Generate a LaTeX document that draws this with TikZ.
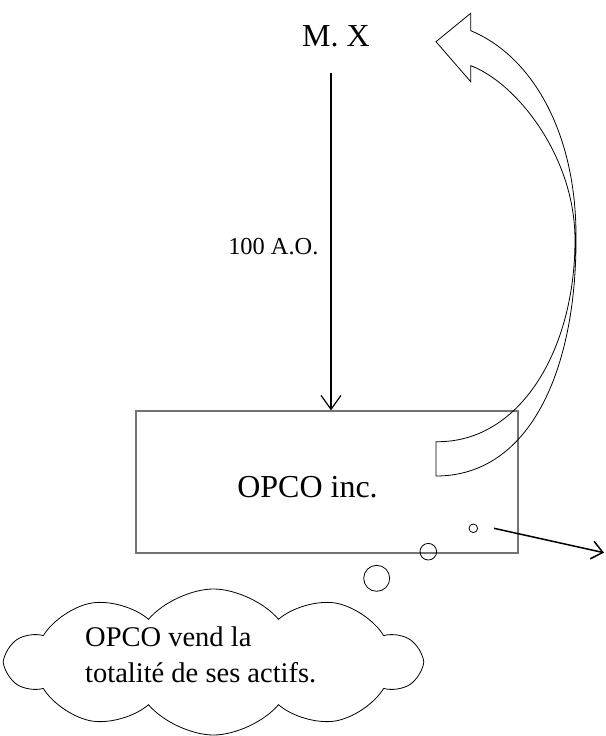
\documentclass[tikz,border=0pt]{standalone}
\usepackage{fontspec}
\setmainfont{Liberation Serif}
\usetikzlibrary{arrows.meta,positioning,shapes.symbols}

\begin{document}
\begin{tikzpicture}[x=1pt, y=-1pt,
    fleche/.style={draw=black, line width=1.2pt, -{Straight Barb[length=14pt, width=20pt]}},
    rond/.style={draw=black, circle, inner sep=0pt, line width=0.8pt},
    txt/.style={inner sep=0pt}]
    \useasboundingbox (0,0) rectangle (605,736);

    % Actionnaire
    \node[txt, font=\fontsize{32}{38}\selectfont] (mx) at (336,36) {M. X};

    % Societe
    \node[draw=black!55, line width=1.2pt, minimum width=382pt, minimum height=142pt, inner sep=0pt] (opco) at (327,482) {};
    \node[txt, font=\fontsize{32}{38}\selectfont] (opcotxt) at ([shift={(-19.5,5)}]opco.center) {OPCO inc.};

    % Actions detenues
    \coordinate (haut) at ([shift={(-5,26)}]mx.south);
    \draw[fleche] (haut) -- (haut |- opco.north)
        node[txt, pos=0.514, left=12pt, font=\fontsize{24.4}{29}\selectfont] (ao) {100 A.O.};

    % Fleche courbe (retour vers M. X)
    \draw[line width=0.8pt] (436,441.7) -- (436,476) .. controls (530,476) and (576,370) .. (576,240)
        .. controls (577,130) and (530,55) .. (470.7,30.7) -- (470.7,13.3) -- (436,41.7)
        -- (470.7,81.7) -- (470.7,65.7) .. controls (515,82) and (575,155) .. (575,240)
        .. controls (575,350) and (520,443) .. (436,441.7) -- cycle;

    % Pensee
    \node[rond, minimum size=8.6pt] (b1) at (473.3,528.3) {};
    \node[rond, minimum size=16.6pt] (b2) at (428.3,551.7) {};
    \node[rond, minimum size=26pt] (b3) at (376.7,578.3) {};
    \node[cloud, draw, cloud puffs=10, cloud puff arc=100, cloud ignores aspect, minimum width=413pt, minimum height=146pt, line width=0.8pt] (nuage) at (213.5,662) {};
    \node[txt, anchor=west, align=left, font=\fontsize{28.5}{36}\selectfont] (nuagetxt) at (85,655.3) {OPCO vend la\\totalité de ses actifs.};

    % Vente des actifs
    \coordinate (vente) at (604,552.7);
    \draw[fleche, line width=1.5pt, -{Straight Barb[length=11pt, width=18pt]}] ([xshift=16pt]b1.east) -- (vente);
\end{tikzpicture}
\end{document}
